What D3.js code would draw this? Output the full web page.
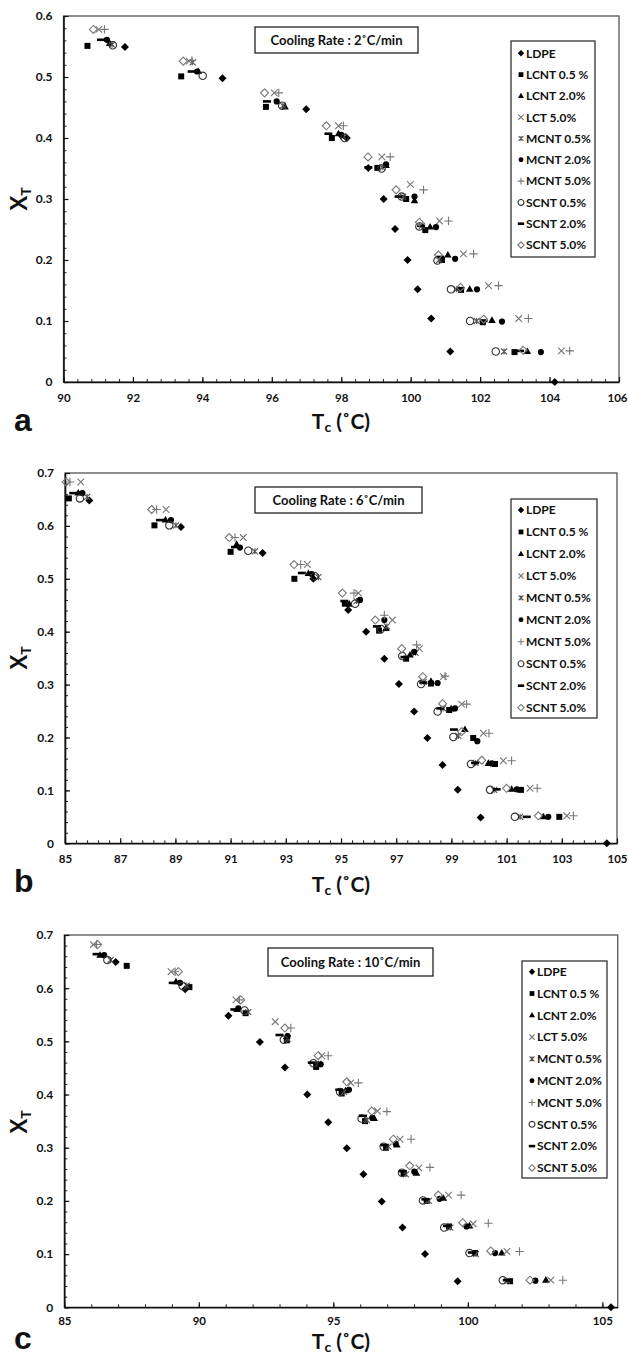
<!DOCTYPE html>
<html><head><meta charset="utf-8">
<script src="https://cdn.jsdelivr.net/npm/d3@7/dist/d3.min.js"></script>
<style>body{margin:0;background:#fff}svg{display:block}</style>
</head><body><svg id="chart" width="628" height="1357"></svg>
<script>
// ---------------- DATA ----------------
const seriesNames = ["LDPE","LCNT 0.5 %","LCNT 2.0%","LCT 5.0%","MCNT 0.5%","MCNT 2.0%","MCNT 5.0%","SCNT 0.5%","SCNT 2.0%","SCNT 5.0%"];
const panelLetters = ["a","b","c"];
const coolingRates = ["2","6","10"];
const xTicksA = [90,92,94,96,98,100,102,104,106];
const xTicksB = [85,87,89,91,93,95,97,99,101,103,105];
const xTicksC = [85,90,95,100,105];
const yTicksA = [0,0.1,0.2,0.3,0.4,0.5,0.6];
const yTicksBC = [0,0.1,0.2,0.3,0.4,0.5,0.6,0.7];

// Panel a (2 °C/min): [Tc, XT]
const a_LDPE   = [[91.77,0.549],[94.58,0.498],[96.99,0.447],[98.16,0.40],[98.78,0.351],[99.22,0.30],[99.55,0.251],[99.91,0.20],[100.2,0.152],[100.59,0.104],[101.14,0.05],[104.15,0]];
const a_LCNT05 = [[90.69,0.551],[93.39,0.501],[95.83,0.451],[97.73,0.40],[99.04,0.351],[99.87,0.30],[100.42,0.249],[100.9,0.20],[101.45,0.151],[102.08,0.098],[102.99,0.049]];
const a_LCNT2  = [[91.33,0.555],[93.88,0.509],[96.38,0.451],[97.92,0.407],[99.29,0.355],[100.11,0.297],[100.56,0.254],[101.07,0.208],[101.7,0.152],[102.34,0.101],[103.36,0.05]];
const a_LCT5   = [[91.02,0.578],[93.62,0.526],[96.07,0.474],[97.92,0.42],[99.17,0.369],[99.99,0.324],[100.83,0.264],[101.52,0.21],[102.24,0.158],[103.11,0.104],[104.34,0.051]];
const a_MCNT05 = [[91.4,0.553],[93.72,0.524],[96.32,0.453],[98.05,0.403],[99.18,0.352],[99.78,0.304],[100.32,0.256],[100.82,0.20],[101.32,0.152],[101.9,0.10],[102.69,0.05]];
const a_MCNT2  = [[91.25,0.561],[93.85,0.509],[96.14,0.46],[98.0,0.405],[99.29,0.357],[100.11,0.304],[100.73,0.254],[101.28,0.202],[101.91,0.152],[102.63,0.099],[103.75,0.049]];
const a_MCNT5  = [[91.18,0.578],[93.7,0.527],[96.2,0.474],[98.06,0.42],[99.41,0.369],[100.37,0.315],[101.09,0.264],[101.81,0.21],[102.53,0.158],[103.39,0.104],[104.58,0.051]];
const a_SCNT05 = [[91.42,0.552],[94.01,0.502],[96.3,0.453],[98.1,0.40],[99.16,0.35],[99.74,0.304],[100.25,0.255],[100.77,0.199],[101.16,0.152],[101.71,0.10],[102.45,0.05]];
const a_SCNT2  = [[91.08,0.561],[93.69,0.509],[95.86,0.46],[97.63,0.407],[98.78,0.352],[99.65,0.304],[100.3,0.256],[100.85,0.205],[101.43,0.153],[102.1,0.10],[103.15,0.051]];
const a_SCNT5  = [[90.86,0.578],[93.45,0.526],[95.79,0.474],[97.57,0.42],[98.77,0.369],[99.58,0.315],[100.25,0.262],[100.8,0.208],[101.43,0.155],[102.1,0.103],[103.24,0.052]];

// Panel b (6 °C/min)
const b_LDPE   = [[85.88,0.648],[89.2,0.598],[92.16,0.549],[94.0,0.50],[95.26,0.441],[95.91,0.40],[96.57,0.349],[97.1,0.301],[97.65,0.249],[98.13,0.199],[98.68,0.148],[99.23,0.101],[100.06,0.049],[104.63,0]];
const b_LCNT05 = [[85.14,0.652],[88.24,0.601],[91.0,0.551],[93.31,0.50],[95.14,0.453],[96.38,0.402],[97.36,0.349],[98.26,0.302],[98.92,0.252],[99.79,0.199],[100.58,0.15],[101.52,0.101],[102.91,0.05]];
const b_LCNT2  = [[85.48,0.662],[88.64,0.611],[91.22,0.565],[93.82,0.51],[95.3,0.452],[96.63,0.406],[97.5,0.356],[98.26,0.306],[98.99,0.254],[99.49,0.215],[100.34,0.151],[101.18,0.102],[102.33,0.05]];
const b_LCT5   = [[85.57,0.683],[88.66,0.631],[91.46,0.578],[93.78,0.527],[95.63,0.473],[96.86,0.422],[97.84,0.368],[98.71,0.315],[99.37,0.263],[100.16,0.208],[100.88,0.156],[101.85,0.104],[103.18,0.052]];
const b_MCNT05 = [[85.8,0.655],[89.02,0.601],[91.88,0.552],[94.18,0.503],[95.56,0.458],[96.66,0.41],[97.7,0.36],[98.0,0.305],[98.7,0.255],[99.25,0.203],[99.88,0.152],[100.55,0.101],[101.49,0.05]];
const b_MCNT2  = [[85.63,0.662],[88.84,0.611],[91.34,0.559],[93.94,0.509],[95.69,0.46],[96.57,0.422],[97.65,0.362],[98.5,0.303],[99.13,0.255],[99.94,0.193],[100.46,0.151],[101.37,0.102],[102.51,0.05]];
const b_MCNT5  = [[85.18,0.683],[88.32,0.631],[91.16,0.578],[93.54,0.527],[95.47,0.473],[96.57,0.431],[97.74,0.375],[98.77,0.316],[99.55,0.263],[100.36,0.208],[101.18,0.156],[102.11,0.104],[103.42,0.052]];
const b_SCNT05 = [[85.54,0.652],[88.78,0.601],[91.64,0.553],[94.05,0.505],[95.51,0.453],[96.45,0.405],[97.22,0.354],[97.9,0.301],[98.5,0.249],[99.07,0.201],[99.71,0.15],[100.4,0.101],[101.3,0.05]];
const b_SCNT2  = [[85.3,0.662],[88.44,0.611],[91.16,0.56],[93.58,0.511],[95.12,0.458],[96.3,0.41],[97.3,0.352],[97.98,0.304],[98.6,0.255],[99.09,0.215],[99.86,0.152],[100.64,0.102],[101.73,0.05]];
const b_SCNT5  = [[85.04,0.683],[88.14,0.631],[90.95,0.578],[93.3,0.527],[95.05,0.473],[96.24,0.422],[97.2,0.368],[97.96,0.315],[98.68,0.264],[99.37,0.211],[100.1,0.157],[101.0,0.104],[102.15,0.052]];

// Panel c (10 °C/min)
const c_LDPE   = [[86.91,0.649],[89.49,0.598],[91.1,0.548],[92.27,0.499],[93.2,0.451],[94.03,0.40],[94.81,0.348],[95.5,0.299],[96.12,0.25],[96.8,0.199],[97.57,0.15],[98.41,0.10],[99.62,0.049],[105.32,0]];
const c_LCNT05 = [[87.32,0.642],[89.65,0.602],[91.74,0.553],[93.27,0.502],[94.36,0.452],[95.31,0.402],[96.18,0.35],[96.96,0.30],[97.61,0.252],[98.47,0.20],[99.3,0.152],[100.27,0.102],[101.57,0.049]];
const c_LCNT2  = [[86.33,0.662],[89.15,0.612],[91.42,0.56],[93.27,0.509],[94.4,0.456],[95.45,0.407],[96.52,0.355],[97.36,0.305],[98.09,0.252],[99.09,0.205],[100.06,0.153],[101.26,0.102],[102.9,0.051]];
const c_LCT5   = [[86.08,0.682],[88.97,0.631],[91.38,0.578],[92.84,0.537],[94.57,0.473],[95.65,0.422],[96.64,0.369],[97.48,0.316],[98.18,0.262],[99.28,0.211],[100.2,0.157],[101.45,0.105],[103.08,0.051]];
const c_MCNT05 = [[86.72,0.653],[89.55,0.605],[91.84,0.555],[93.3,0.505],[94.45,0.458],[95.4,0.405],[96.25,0.352],[97.05,0.302],[97.7,0.25],[98.55,0.20],[99.35,0.15],[100.3,0.10],[101.45,0.05]];
const c_MCNT2  = [[86.48,0.662],[89.3,0.61],[91.47,0.562],[93.3,0.51],[94.53,0.457],[95.58,0.409],[96.45,0.356],[97.32,0.307],[98.01,0.255],[98.95,0.204],[99.95,0.152],[101.01,0.102],[102.51,0.05]];
const c_MCNT5  = [[86.2,0.682],[89.12,0.631],[91.51,0.578],[93.42,0.525],[94.81,0.473],[95.93,0.422],[96.99,0.368],[97.89,0.316],[98.59,0.263],[99.75,0.211],[100.76,0.158],[101.92,0.105],[103.53,0.051]];
const c_SCNT05 = [[86.6,0.653],[89.4,0.604],[91.7,0.558],[93.16,0.503],[94.26,0.459],[95.25,0.405],[96.05,0.355],[96.87,0.302],[97.55,0.253],[98.33,0.201],[99.12,0.15],[100.06,0.102],[101.3,0.051]];
const c_SCNT2  = [[86.2,0.664],[89.03,0.61],[91.32,0.56],[93.0,0.512],[94.2,0.46],[95.22,0.409],[96.1,0.36],[96.9,0.305],[97.58,0.256],[98.42,0.203],[99.22,0.153],[100.15,0.103],[101.45,0.051]];
const c_SCNT5  = [[86.24,0.682],[89.24,0.631],[91.56,0.578],[93.2,0.525],[94.44,0.473],[95.5,0.424],[96.43,0.369],[97.23,0.316],[97.84,0.266],[98.9,0.211],[99.81,0.159],[100.85,0.106],[102.31,0.051]];

// ---------------- LAYOUT ----------------
const panels = [
  {series:[a_LDPE,a_LCNT05,a_LCNT2,a_LCT5,a_MCNT05,a_MCNT2,a_MCNT5,a_SCNT05,a_SCNT2,a_SCNT5],
   xd:[90,106], yd:[0,0.6], xt:xTicksA, xMinor:0.4, yt:yTicksA,
   L:63.5, R:619, T:16, B:382, pad:12,
   title:{x0:255,x1:418,y0:27,y1:53}, leg:{x0:511,x1:595,y0:41,y1:257,first:53.3,step:21.3},
   yTitleY:199, xTitle:{x:341,y:429}, letterY:431},
  {series:[b_LDPE,b_LCNT05,b_LCNT2,b_LCT5,b_MCNT05,b_MCNT2,b_MCNT5,b_SCNT05,b_SCNT2,b_SCNT5],
   xd:[85,105], yd:[0,0.7], xt:xTicksB, xMinor:0.4, yt:yTicksBC,
   L:65, R:617, T:473, B:843.3, pad:12,
   title:{x0:255,x1:422,y0:487,y1:513}, leg:{x0:511,x1:597,y0:499,y1:718,first:510,step:21.96},
   yTitleY:658, xTitle:{x:341,y:892}, letterY:892},
  {series:[c_LDPE,c_LCNT05,c_LCNT2,c_LCT5,c_MCNT05,c_MCNT2,c_MCNT5,c_SCNT05,c_SCNT2,c_SCNT5],
   xd:[85,105.57], yd:[0,0.7], xt:xTicksC, xMinor:1, yt:yTicksBC,
   L:64.3, R:617.7, T:935, B:1307.3, pad:9.5,
   title:{x0:268,x1:433,y0:948,y1:976}, leg:{x0:522,x1:607,y0:961,y1:1178,first:971.7,step:21.8},
   yTitleY:1122, xTitle:{x:341,y:1349}, letterY:1349}
];

// ---------------- SYMBOLS ----------------
const shapes = {
  diamond:{draw(c,r){c.moveTo(0,-r);c.lineTo(r,0);c.lineTo(0,r);c.lineTo(-r,0);c.closePath();}},
  square:{draw(c,r){c.rect(-r,-r,2*r,2*r);}},
  triangle:{draw(c,r){const h=r*1.732;c.moveTo(0,-h*0.62);c.lineTo(r,h*0.38);c.lineTo(-r,h*0.38);c.closePath();}},
  cross:{draw(c,r){c.moveTo(-r,-r);c.lineTo(r,r);c.moveTo(r,-r);c.lineTo(-r,r);}},
  star:{draw(c,r){c.moveTo(-r,-r);c.lineTo(r,r);c.moveTo(r,-r);c.lineTo(-r,r);c.moveTo(0,-r);c.lineTo(0,r);}},
  circle:{draw(c,r){c.moveTo(r,0);c.arc(0,0,r,0,2*Math.PI);}},
  plus:{draw(c,r){c.moveTo(-r,0);c.lineTo(r,0);c.moveTo(0,-r);c.lineTo(0,r);}},
  dash:{draw(c,r){c.rect(-r,-1.3,2*r,2.6);}}
};
const styles = [
  {s:"diamond", r:4,   fill:"#000", stroke:"none", sw:0},
  {s:"square",  r:3,   fill:"#000", stroke:"none", sw:0},
  {s:"triangle",r:3.8, fill:"#000", stroke:"none", sw:0},
  {s:"cross",   r:3.3, fill:"none", stroke:"#777", sw:1.1},
  {s:"star",    r:3,   fill:"none", stroke:"#555", sw:1.1},
  {s:"circle",  r:3.1, fill:"#000", stroke:"none", sw:0},
  {s:"plus",    r:4.2, fill:"none", stroke:"#777", sw:1.1},
  {s:"circle",  r:3.7, fill:"none", stroke:"#333", sw:1.1},
  {s:"dash",    r:4,   fill:"#000", stroke:"none", sw:0},
  {s:"diamond", r:4,   fill:"none", stroke:"#777", sw:1.1}
];
const symPath = st => d3.symbol().type(shapes[st.s]).size(st.r)();

const svg = d3.select("#chart");
svg.append("rect").attr("width",628).attr("height",1357).attr("fill","#fff");
const FONT = "Lato, 'Open Sans', sans-serif";

panels.forEach((p,pi)=>{
  const x = d3.scaleLinear().domain(p.xd).range([p.L,p.R]);
  const y = d3.scaleLinear().domain(p.yd).range([p.B,p.T]);
  const g = svg.append("g");

  // frame
  g.append("rect").attr("x",p.L).attr("y",p.T).attr("width",p.R-p.L).attr("height",p.B-p.T)
    .attr("fill","none").attr("stroke","#555").attr("stroke-width",1.3);

  // minor ticks
  const xMin = d3.range(p.xd[0], p.xd[1]+1e-9, p.xMinor);
  g.append("g").attr("transform",`translate(0,${p.B})`)
    .call(d3.axisBottom(x).tickValues(xMin).tickSize(-3).tickFormat(""))
    .call(a=>{a.select(".domain").remove();a.selectAll("line").attr("stroke","#222");});
  const yMin = d3.range(p.yd[0], p.yd[1]+1e-9, 0.02);
  g.append("g").attr("transform",`translate(${p.L},0)`)
    .call(d3.axisLeft(y).tickValues(yMin).tickSize(-3).tickFormat(""))
    .call(a=>{a.select(".domain").remove();a.selectAll("line").attr("stroke","#222");});

  // major axes
  g.append("g").attr("transform",`translate(0,${p.B})`)
    .call(d3.axisBottom(x).tickValues(p.xt).tickSize(-5).tickPadding(p.pad).tickFormat(d3.format("d")).tickSizeOuter(0))
    .call(a=>{a.select(".domain").attr("stroke","#111").attr("stroke-width",1.6);
      a.selectAll("line").attr("stroke","#111").attr("stroke-width",1.2);
      a.selectAll("text").attr("font-family",FONT).attr("font-weight","bold").attr("font-size",11.5).attr("fill","#111");
      // keep edge labels inside the page
      a.selectAll("text").each(function(d){
        const w = this.getComputedTextLength(), cx = x(d);
        if (cx + w/2 > 627) d3.select(this).attr("x", 627 - w/2 - cx);
      });});
  g.append("g").attr("transform",`translate(${p.L},0)`)
    .call(d3.axisLeft(y).tickValues(p.yt).tickSize(-5).tickPadding(11).tickFormat(d=>d===0?"0":d.toFixed(1)).tickSizeOuter(0))
    .call(a=>{a.select(".domain").attr("stroke","#111").attr("stroke-width",1.6);
      a.selectAll("line").attr("stroke","#111").attr("stroke-width",1.2);
      a.selectAll("text").attr("font-family",FONT).attr("font-weight","bold").attr("font-size",12).attr("fill","#111");});

  // points
  p.series.forEach((arr,si)=>{
    const st = styles[si];
    g.append("g").selectAll("path").data(arr).join("path")
      .attr("transform",d=>`translate(${x(d[0])},${y(d[1])})`)
      .attr("d",symPath(st)).attr("fill",st.fill).attr("stroke",st.stroke).attr("stroke-width",st.sw);
  });

  // title box
  const t = p.title;
  g.append("rect").attr("x",t.x0).attr("y",t.y0).attr("width",t.x1-t.x0).attr("height",t.y1-t.y0)
    .attr("fill","#fff").attr("stroke","#222").attr("stroke-width",1.3);
  g.append("text").attr("x",(t.x0+t.x1)/2).attr("y",(t.y0+t.y1)/2+4.5).attr("text-anchor","middle")
    .attr("font-family",FONT).attr("font-weight","bold").attr("font-size",13).attr("fill","#111")
    .text(`Cooling Rate : ${coolingRates[pi]}˚C/min`);

  // legend
  const l = p.leg;
  g.append("rect").attr("x",l.x0).attr("y",l.y0).attr("width",l.x1-l.x0).attr("height",l.y1-l.y0)
    .attr("fill","#fff").attr("stroke","#333").attr("stroke-width",1.3);
  seriesNames.forEach((nm,si)=>{
    const st = styles[si], yy = l.first + si*l.step;
    const sm = Object.assign({}, st, {r: st.r*0.8});
    g.append("path").attr("transform",`translate(${l.x0+10},${yy})`).attr("d",symPath(sm))
      .attr("fill",st.fill).attr("stroke",st.stroke).attr("stroke-width",st.sw);
    g.append("text").attr("x",l.x0+15).attr("y",yy+4.3)
      .attr("font-family",FONT).attr("font-weight","bold").attr("font-size",12).attr("fill","#111").text(nm);
  });

  // axis titles
  const yt = g.append("text").attr("transform",`translate(27,${p.yTitleY}) rotate(-90)`).attr("text-anchor","middle")
    .attr("font-family",FONT).attr("font-weight","bold").attr("font-size",22).attr("fill","#111");
  yt.append("tspan").text("X");
  yt.append("tspan").attr("font-size",14).attr("dy",4).text("T");
  const xt = g.append("text").attr("x",p.xTitle.x).attr("y",p.xTitle.y).attr("text-anchor","middle")
    .attr("font-family",FONT).attr("font-weight","bold").attr("font-size",21).attr("fill","#111");
  xt.append("tspan").text("T");
  xt.append("tspan").attr("font-size",14).attr("dy",3).text("c");
  xt.append("tspan").attr("dy",-3).text(" (˚C)");

  // panel letter
  g.append("text").attr("x",14).attr("y",p.letterY)
    .attr("font-family","'Liberation Sans', Arial, sans-serif").attr("font-weight","bold").attr("font-size",32).attr("fill","#111")
    .text(panelLetters[pi]);
});
</script></body></html>
